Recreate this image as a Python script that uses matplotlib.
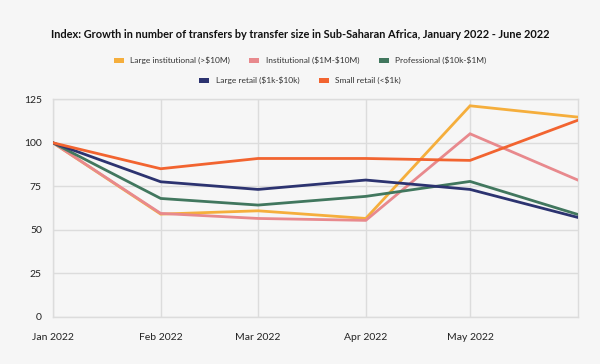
import matplotlib
matplotlib.use("Agg")
import matplotlib.pyplot as plt
import numpy as np
from matplotlib.patches import Patch

plt.rcParams['font.family'] = ['Lato', 'DejaVu Sans']

dates = np.array(['2022-01-01', '2022-02-01', '2022-03-01', '2022-04-01',
                  '2022-05-01', '2022-06-01'], dtype='datetime64[D]')
tick_labels = ['Jan 2022', 'Feb 2022', 'Mar 2022', 'Apr 2022', 'May 2022']

large_institutional = [100, 59.0, 60.9, 56.5, 121.3, 114.8]
institutional = [100, 59.4, 56.5, 55.4, 105.2, 78.6]
professional = [100, 68.0, 64.2, 69.2, 77.8, 58.8]
large_retail = [100, 77.6, 73.2, 78.6, 73.2, 57.1]
small_retail = [100, 85.1, 91.0, 91.0, 89.9, 113.0]

series = [
    ("Large institutional (>\\$10M)", large_institutional, "#F5AE3C"),
    ("Institutional (\\$1M-\\$10M)", institutional, "#E8898D"),
    ("Professional (\\$10k-\\$1M)", professional, "#41775E"),
    ("Large retail (\\$1k-\\$10k)", large_retail, "#2C3370"),
    ("Small retail (<\\$1k)", small_retail, "#F26430"),
]

bg = "#F6F6F6"
fig = plt.figure(figsize=(6, 3.64), dpi=100, facecolor=bg)
ax = fig.add_axes([0.0883, 0.130, 0.8747, 0.597], facecolor=bg)

for name, vals, col in series:
    ax.plot(dates, vals, color=col, lw=2.0, solid_joinstyle='miter', zorder=3)

ax.set_xlim(dates[0], dates[-1])
ax.set_ylim(0, 125)
ax.set_yticks([0, 25, 50, 75, 100, 125])
ax.set_xticks(dates[:5])
ax.set_xticklabels(tick_labels)
ax.grid(True, color="#DCDCDC", lw=1.0, zorder=0)
for s in ['top', 'right', 'left', 'bottom']:
    ax.spines[s].set_color("#DCDCDC")
    ax.spines[s].set_linewidth(1.0)
ax.tick_params(axis='both', length=0, labelsize=7.5, colors="#222222")
ax.tick_params(axis='x', pad=12)
ax.tick_params(axis='y', pad=8)

fig.text(0.5, 0.904, "Index: Growth in number of transfers by transfer size in Sub-Saharan Africa, January 2022 - June 2022",
         ha='center', va='center', fontsize=7.9, fontweight='bold', color="#111111")

h1 = [Patch(facecolor=c, edgecolor='none', label=n) for n, v, c in series[:3]]
h2 = [Patch(facecolor=c, edgecolor='none', label=n) for n, v, c in series[3:]]
kw = dict(loc='center', frameon=False, fontsize=6.0, handlelength=1.2, handleheight=0.6,
          columnspacing=2.3, handletextpad=0.8)
leg1 = fig.legend(handles=h1, bbox_to_anchor=(0.5, 0.834), ncol=3, **kw)
leg2 = fig.legend(handles=h2, bbox_to_anchor=(0.5, 0.779), ncol=2, **kw)
for leg in (leg1, leg2):
    for t in leg.get_texts():
        t.set_color("#333333")

fig.savefig("out.png", dpi=100, facecolor=bg)
